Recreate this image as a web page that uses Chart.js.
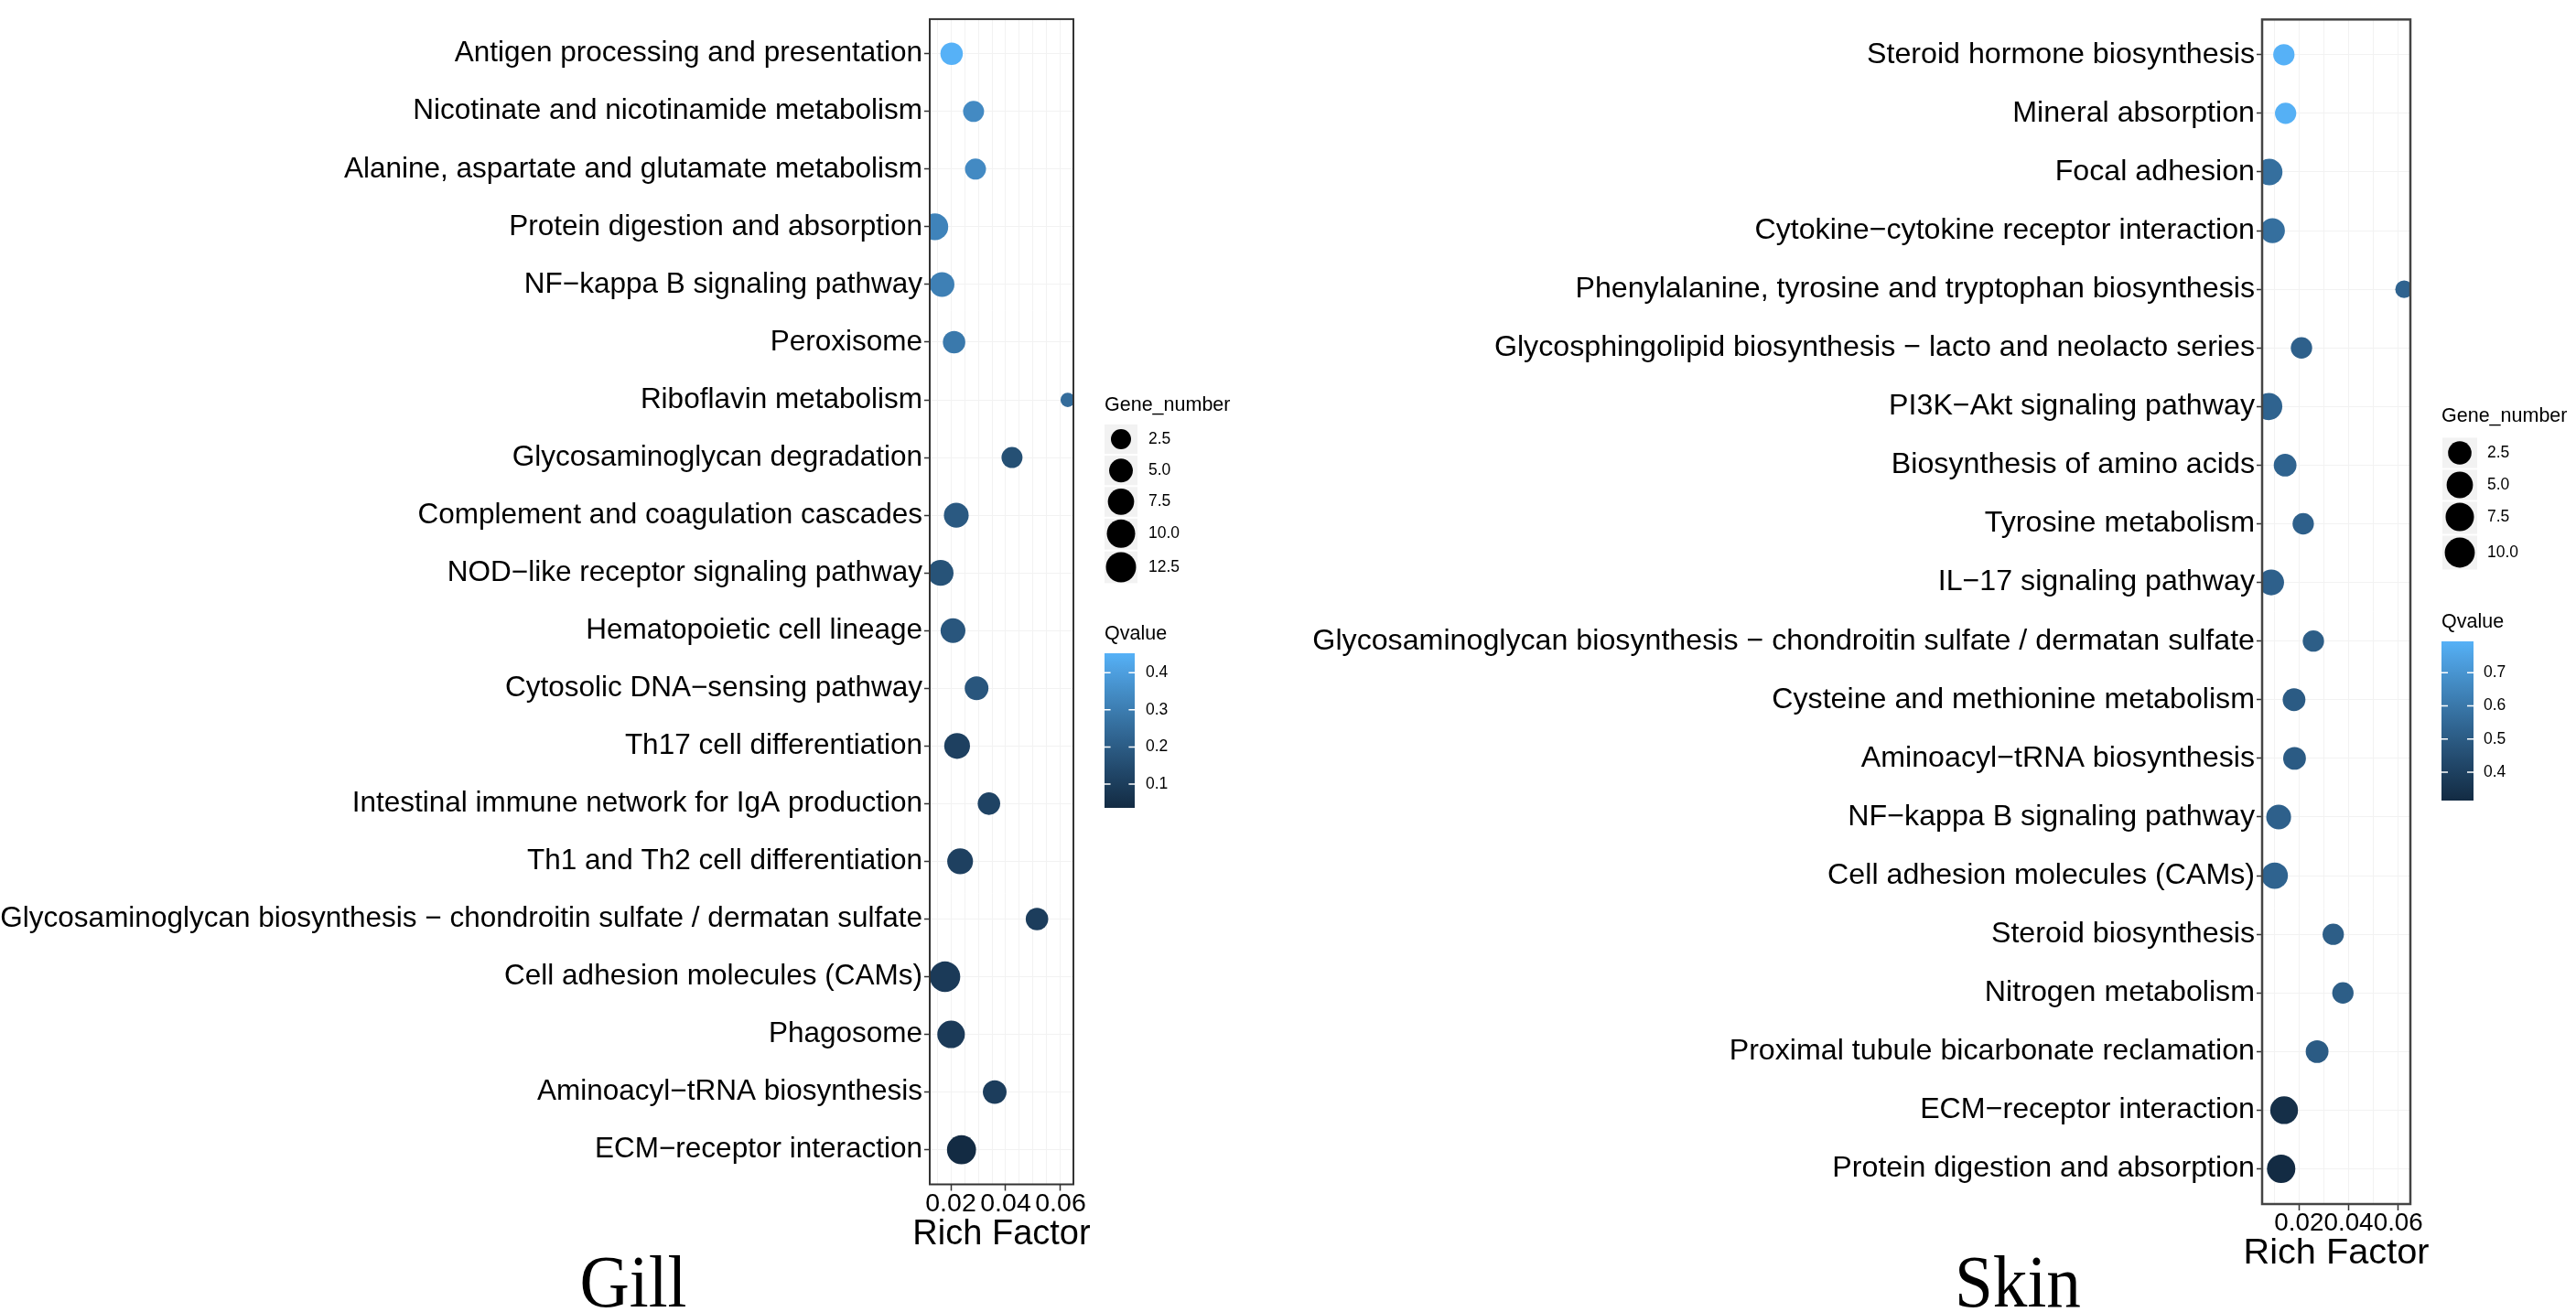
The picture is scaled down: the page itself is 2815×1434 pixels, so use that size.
<!DOCTYPE html>
<html>
<head>
<meta charset="utf-8">
<script src="https://cdn.jsdelivr.net/npm/chart.js@4.4.1/dist/chart.umd.min.js"></script>
<style>
html, body { margin: 0; padding: 0; background: #fff; }
body { width: 2815px; height: 1434px; position: relative; overflow: hidden; }
canvas { position: absolute; top: 0; }
#gill { left: 0; }
#skin { left: 1400px; }
.tissue { position: absolute; top: 1361px; font-family: "Liberation Serif", "Times New Roman", serif;
  font-size: 80px; line-height: 1; color: #000; white-space: nowrap; transform: translateX(-50%) scaleX(0.94); }
</style>
</head>
<body>
<canvas id="gill" width="1400" height="1434"></canvas>
<canvas id="skin" width="1415" height="1434"></canvas>
<div class="tissue" style="left:692px">Gill</div>
<div class="tissue" style="left:2205px">Skin</div>
<script>
// ---------- Gill ----------
var gillPathways = [
  "Antigen processing and presentation",
  "Nicotinate and nicotinamide metabolism",
  "Alanine, aspartate and glutamate metabolism",
  "Protein digestion and absorption",
  "NF\u2212kappa B signaling pathway",
  "Peroxisome",
  "Riboflavin metabolism",
  "Glycosaminoglycan degradation",
  "Complement and coagulation cascades",
  "NOD\u2212like receptor signaling pathway",
  "Hematopoietic cell lineage",
  "Cytosolic DNA\u2212sensing pathway",
  "Th17 cell differentiation",
  "Intestinal immune network for IgA production",
  "Th1 and Th2 cell differentiation",
  "Glycosaminoglycan biosynthesis \u2212 chondroitin sulfate / dermatan sulfate",
  "Cell adhesion molecules (CAMs)",
  "Phagosome",
  "Aminoacyl\u2212tRNA biosynthesis",
  "ECM\u2212receptor interaction"
];
var gillRichFactor = [0.0203, 0.0283, 0.0290, 0.0142, 0.0168, 0.0212, 0.0626, 0.0423, 0.0220, 0.0163,
                      0.0208, 0.0294, 0.0223, 0.0339, 0.0234, 0.0514, 0.0179, 0.0201, 0.0360, 0.0239];
var gillGeneNumber = [4, 3, 3, 8, 6, 4, 1, 3, 6, 7, 6, 5, 7, 4, 7, 4, 13, 9, 5, 11];
var gillQvalue = [0.452, 0.34, 0.34, 0.32, 0.31, 0.29, 0.25, 0.16, 0.19, 0.17,
                  0.18, 0.18, 0.11, 0.12, 0.11, 0.10, 0.09, 0.09, 0.10, 0.036];
var gillXGrid = [0.015, 0.02, 0.025, 0.03, 0.035, 0.04, 0.045, 0.05, 0.055, 0.06];
var gillXTicks = [0.02, 0.04, 0.06];
var gillXTickLabels = ["0.02", "0.04", "0.06"];
var gillSizeBreaks = [2.5, 5, 7.5, 10, 12.5];
var gillSizeLabels = ["2.5", "5.0", "7.5", "10.0", "12.5"];
var gillQBreaks = [0.1, 0.2, 0.3, 0.4];
var gillQLabels = ["0.1", "0.2", "0.3", "0.4"];

// ---------- Skin ----------
var skinPathways = [
  "Steroid hormone biosynthesis",
  "Mineral absorption",
  "Focal adhesion",
  "Cytokine\u2212cytokine receptor interaction",
  "Phenylalanine, tyrosine and tryptophan biosynthesis",
  "Glycosphingolipid biosynthesis \u2212 lacto and neolacto series",
  "PI3K\u2212Akt signaling pathway",
  "Biosynthesis of amino acids",
  "Tyrosine metabolism",
  "IL\u221217 signaling pathway",
  "Glycosaminoglycan biosynthesis \u2212 chondroitin sulfate / dermatan sulfate",
  "Cysteine and methionine metabolism",
  "Aminoacyl\u2212tRNA biosynthesis",
  "NF\u2212kappa B signaling pathway",
  "Cell adhesion molecules (CAMs)",
  "Steroid biosynthesis",
  "Nitrogen metabolism",
  "Proximal tubule bicarbonate reclamation",
  "ECM\u2212receptor interaction",
  "Protein digestion and absorption"
];
var skinRichFactor = [0.0139, 0.0146, 0.0080, 0.0093, 0.0624, 0.0210, 0.0078, 0.0144, 0.0217, 0.0088,
                      0.0258, 0.0180, 0.0182, 0.0118, 0.0102, 0.0338, 0.0377, 0.0273, 0.0140, 0.0128];
var skinGeneNumber = [2, 2, 7, 5, 1, 2, 8, 3, 2, 6, 2, 3, 3, 5, 7, 2, 2, 3, 9, 10];
var skinQvalue = [0.794, 0.79, 0.57, 0.57, 0.53, 0.52, 0.53, 0.53, 0.52, 0.52,
                  0.51, 0.50, 0.50, 0.52, 0.53, 0.51, 0.51, 0.50, 0.33, 0.315];
var skinXGrid = [0.01, 0.02, 0.03, 0.04, 0.05, 0.06];
var skinXTicks = [0.02, 0.04, 0.06];
var skinXTickLabels = ["0.02", "0.04", "0.06"];
var skinSizeBreaks = [2.5, 5, 7.5, 10];
var skinSizeLabels = ["2.5", "5.0", "7.5", "10.0"];
var skinQBreaks = [0.4, 0.5, 0.6, 0.7];
var skinQLabels = ["0.4", "0.5", "0.6", "0.7"];

var FONT = '"Liberation Sans", Arial, sans-serif';

// ggplot2 default continuous colour gradient, interpolated in Lab space
function hexRgb(h) { return [parseInt(h.slice(1, 3), 16), parseInt(h.slice(3, 5), 16), parseInt(h.slice(5, 7), 16)]; }
function toLab(rgb) {
  var c = rgb.map(function (v) { v /= 255; return v <= 0.04045 ? v / 12.92 : Math.pow((v + 0.055) / 1.055, 2.4); });
  var x = (0.4124 * c[0] + 0.3576 * c[1] + 0.1805 * c[2]) / 0.95047;
  var y = 0.2126 * c[0] + 0.7152 * c[1] + 0.0722 * c[2];
  var z = (0.0193 * c[0] + 0.1192 * c[1] + 0.9505 * c[2]) / 1.08883;
  var f = function (t) { return t > 0.008856 ? Math.cbrt(t) : 7.787 * t + 16 / 116; };
  return [116 * f(y) - 16, 500 * (f(x) - f(y)), 200 * (f(y) - f(z))];
}
function fromLab(lab) {
  var fy = (lab[0] + 16) / 116, fx = fy + lab[1] / 500, fz = fy - lab[2] / 200;
  var g = function (t) { var t3 = t * t * t; return t3 > 0.008856 ? t3 : (t - 16 / 116) / 7.787; };
  var x = g(fx) * 0.95047, y = g(fy), z = g(fz) * 1.08883;
  var lin = [3.2406 * x - 1.5372 * y - 0.4986 * z, -0.9689 * x + 1.8758 * y + 0.0415 * z, 0.0557 * x - 0.2040 * y + 1.0570 * z];
  return "rgb(" + lin.map(function (v) {
    v = v <= 0.0031308 ? 12.92 * v : 1.055 * Math.pow(v, 1 / 2.4) - 0.055;
    return Math.round(Math.max(0, Math.min(1, v)) * 255);
  }).join(",") + ")";
}
var lowLab = toLab(hexRgb("#132B43")), highLab = toLab(hexRgb("#56B1F7"));
function qColour(t) {
  t = Math.max(0, Math.min(1, t));
  return fromLab(lowLab.map(function (v, i) { return v + (highLab[i] - v) * t; }));
}

function makePanel(canvasId, d, L) {
  var gMin = Math.min.apply(null, d.genes), gMax = Math.max.apply(null, d.genes);
  var qMin = Math.min.apply(null, d.q), qMax = Math.max.apply(null, d.q);
  var diam = function (g) { return L.dMin + (L.dMax - L.dMin) * Math.sqrt(Math.max(0, (g - gMin) / (gMax - gMin))); };
  var isMajor = function (v) { return d.xTicks.some(function (t) { return Math.abs(t - v) < 1e-9; }); };

  var points = d.pathways.map(function (p, i) { return {x: d.rich[i], y: i + 1, r: diam(d.genes[i]) / 2}; });
  var colours = d.q.map(function (q) { return qColour((q - qMin) / (qMax - qMin)); });

  // panel border, axis title and legends
  var extras = {
    id: "extras",
    afterDatasetsDraw: function (chart) {
      var a = chart.chartArea, ctx = chart.ctx;
      ctx.save();
      ctx.strokeStyle = L.frameColor;
      ctx.lineWidth = L.frameWidth;
      ctx.strokeRect(a.left, a.top, a.right - a.left, a.bottom - a.top);
      ctx.restore();
    },
    afterDraw: function (chart) {
      var ctx = chart.ctx, a = chart.chartArea;
      ctx.save();
      ctx.textBaseline = "middle";
      ctx.fillStyle = "#000";

      ctx.textAlign = "center";
      ctx.font = L.titleSize + "px " + FONT;
      ctx.fillText("Rich Factor", (a.left + a.right) / 2, L.titleY);

      ctx.textAlign = "left";
      ctx.font = "21.5px " + FONT;
      ctx.fillText("Gene_number", L.legX, L.sizeTitleY);
      ctx.fillText("Qvalue", L.legX, L.qTitleY);

      // size keys
      var ys = L.keyY, n = ys.length;
      ctx.font = "17.5px " + FONT;
      d.sizeBreaks.forEach(function (v, i) {
        var cy = ys[i];
        var top = i === 0 ? cy - (ys[1] - cy) / 2 : (ys[i - 1] + cy) / 2;
        var bot = i === n - 1 ? cy + (cy - ys[n - 2]) / 2 : (cy + ys[i + 1]) / 2;
        ctx.fillStyle = "#F2F2F2";
        ctx.fillRect(L.keyX, top + 1, L.keyW, bot - top - 2);
        ctx.fillStyle = "#000";
        ctx.beginPath();
        ctx.arc(L.keyX + L.keyW / 2, cy, diam(v) * L.keyScale / 2, 0, Math.PI * 2);
        ctx.fill();
        ctx.fillText(d.sizeLabels[i], L.keyLabelX, cy);
      });

      // colour bar
      var grad = ctx.createLinearGradient(0, L.barBottom, 0, L.barTop);
      for (var s = 0; s <= 20; s++) grad.addColorStop(s / 20, qColour(s / 20));
      ctx.fillStyle = grad;
      ctx.fillRect(L.barX, L.barTop, L.barW, L.barBottom - L.barTop);
      ctx.strokeStyle = "#fff";
      ctx.lineWidth = 1.5;
      d.qBreaks.forEach(function (b, i) {
        var y = L.barBottom - (b - qMin) / (qMax - qMin) * (L.barBottom - L.barTop);
        ctx.beginPath();
        ctx.moveTo(L.barX, y); ctx.lineTo(L.barX + L.barW / 5, y);
        ctx.moveTo(L.barX + L.barW * 4 / 5, y); ctx.lineTo(L.barX + L.barW, y);
        ctx.stroke();
        ctx.fillStyle = "#000";
        ctx.fillText(d.qLabels[i], L.barLabelX, y);
      });
      ctx.restore();
    }
  };

  new Chart(document.getElementById(canvasId), {
    type: "bubble",
    data: {
      datasets: [{
        data: points,
        backgroundColor: colours,
        borderWidth: 0,
        clip: 0
      }]
    },
    options: {
      responsive: false,
      animation: false,
      devicePixelRatio: 1,
      events: [],
      layout: {padding: {left: 0, right: L.padRight, top: L.padTop, bottom: 0}},
      plugins: {legend: {display: false}, tooltip: {enabled: false}},
      scales: {
        x: {
          type: "linear",
          min: L.xMin,
          max: L.xMax,
          afterBuildTicks: function (s) { s.ticks = d.xGrid.map(function (v) { return {value: v}; }); },
          afterFit: function (s) { s.height = L.xAxisHeight; },
          border: {display: false},
          grid: {
            color: "#F2F2F2",
            lineWidth: 1,
            tickLength: 7,
            tickWidth: 1.5,
            tickColor: function (c) { return c.tick && isMajor(c.tick.value) ? "#333" : "rgba(0,0,0,0)"; }
          },
          ticks: {
            autoSkip: false,
            maxRotation: 0,
            padding: 0,
            color: "#000",
            font: {family: FONT, size: L.xTickSize, lineHeight: 1},
            callback: function (v) {
              for (var k = 0; k < d.xTicks.length; k++) if (Math.abs(d.xTicks[k] - v) < 1e-9) return d.xTickLabels[k];
              return "";
            }
          },
          title: {display: false}
        },
        y: {
          type: "linear",
          reverse: true,
          min: 0.4,
          max: d.pathways.length + 0.6,
          afterBuildTicks: function (s) { s.ticks = d.pathways.map(function (p, i) { return {value: i + 1}; }); },
          afterFit: function (s) { s.width = L.yAxisWidth; },
          border: {display: false},
          grid: {color: "#F2F2F2", lineWidth: 1, tickLength: 6, tickWidth: 1.5, tickColor: "#333"},
          ticks: {
            autoSkip: false,
            padding: 2,
            color: "#000",
            font: {family: FONT, size: L.yTickSize},
            callback: function (v) { return d.pathways[Math.round(v) - 1]; }
          }
        }
      }
    },
    plugins: [extras]
  });
}

makePanel("gill", {
  pathways: gillPathways, rich: gillRichFactor, genes: gillGeneNumber, q: gillQvalue,
  xGrid: gillXGrid, xTicks: gillXTicks, xTickLabels: gillXTickLabels,
  sizeBreaks: gillSizeBreaks, sizeLabels: gillSizeLabels, qBreaks: gillQBreaks, qLabels: gillQLabels
}, {
  xMin: 0.012333, xMax: 0.064667,
  yAxisWidth: 1016, padRight: 227, padTop: 20.5, xAxisHeight: 139.5,
  yTickSize: 31.5, xTickSize: 28.5, titleSize: 38, titleY: 1350,
  frameColor: "#333", frameWidth: 2,
  dMin: 15.8, dMax: 33.3,
  legX: 1207, sizeTitleY: 443, keyX: 1207, keyW: 36, keyY: [480, 514.3, 548.3, 583.3, 620], keyLabelX: 1255, keyScale: 1,
  qTitleY: 693, barX: 1207, barW: 33, barTop: 714, barBottom: 883, barLabelX: 1252
});

makePanel("skin", {
  pathways: skinPathways, rich: skinRichFactor, genes: skinGeneNumber, q: skinQvalue,
  xGrid: skinXGrid, xTicks: skinXTicks, xTickLabels: skinXTickLabels,
  sizeBreaks: skinSizeBreaks, sizeLabels: skinSizeLabels, qBreaks: skinQBreaks, qLabels: skinQLabels
}, {
  xMin: 0.00513, xMax: 0.0649,
  yAxisWidth: 1072, padRight: 181, padTop: 5, xAxisHeight: 118,
  yTickSize: 32.2, xTickSize: 27.8, titleSize: 39.7, titleY: 1370.5,
  frameColor: "#444", frameWidth: 2.5,
  dMin: 19.45, dMax: 31.0,
  legX: 1268, sizeTitleY: 455, keyX: 1269, keyW: 38, keyY: [495, 530, 565, 604], keyLabelX: 1318, keyScale: 1.06,
  qTitleY: 680, barX: 1268, barW: 35, barTop: 701, barBottom: 875, barLabelX: 1314
});
</script>
</body>
</html>
